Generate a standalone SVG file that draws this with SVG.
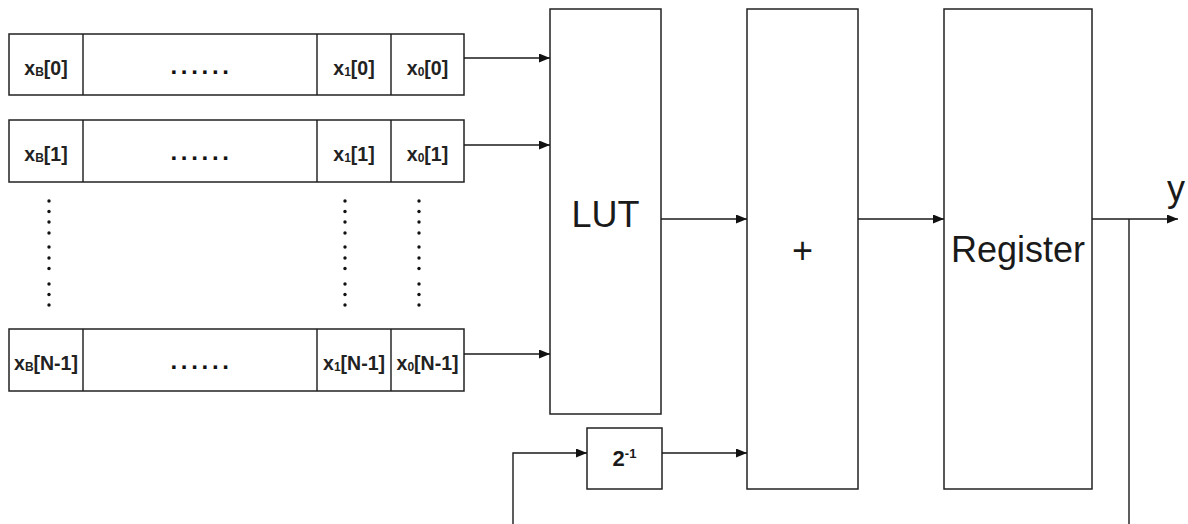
<svg xmlns="http://www.w3.org/2000/svg" width="1188" height="524" viewBox="0 0 1188 524">
<style>
.box{fill:#fff;stroke:#222;stroke-width:1.5}
.ln{fill:none;stroke:#1a1a1a;stroke-width:1.4}
.cell{font-family:"Liberation Sans",Arial,sans-serif;font-size:19.5px;font-weight:bold;fill:#222;text-anchor:middle}
.sub{font-size:12px}
.dots{font-family:"Liberation Sans",Arial,sans-serif;font-size:24px;font-weight:bold;fill:#111;letter-spacing:3.7px}
.big{font-family:"Liberation Sans",Arial,sans-serif;font-size:36px;fill:#1a1a1a;text-anchor:middle}
.pow{font-family:"Liberation Sans",Arial,sans-serif;font-size:22px;font-weight:bold;fill:#1a1a1a;text-anchor:middle}
.vd{fill:#111}
</style>
<defs>
<marker id="ah" markerUnits="userSpaceOnUse" markerWidth="11" markerHeight="9" refX="11" refY="4.5" orient="auto">
<path d="M0,0 L11,4.5 L0,9 z" fill="#111"/>
</marker>
</defs>
<g id="row0">
<rect class="box" x="9" y="34" width="455" height="61"/>
<path class="ln" d="M83,34 V95 M317,34 V95 M391,34 V95"/>
<text class="cell" x="46" y="75">x<tspan class="sub" dy="1">B</tspan><tspan dy="-1">[0]</tspan></text>
<text class="dots" x="170.5" y="73.5">......</text>
<text class="cell" x="354" y="75">x<tspan class="sub" dy="1">1</tspan><tspan dy="-1">[0]</tspan></text>
<text class="cell" x="427.5" y="75">x<tspan class="sub" dy="1">0</tspan><tspan dy="-1">[0]</tspan></text>
</g>
<g id="row1">
<rect class="box" x="9" y="120" width="455" height="62"/>
<path class="ln" d="M83,120 V182 M317,120 V182 M391,120 V182"/>
<text class="cell" x="46" y="161">x<tspan class="sub" dy="1">B</tspan><tspan dy="-1">[1]</tspan></text>
<text class="dots" x="170.5" y="159.5">......</text>
<text class="cell" x="354" y="161">x<tspan class="sub" dy="1">1</tspan><tspan dy="-1">[1]</tspan></text>
<text class="cell" x="427.5" y="161">x<tspan class="sub" dy="1">0</tspan><tspan dy="-1">[1]</tspan></text>
</g>
<g id="vdots" class="vd">
<circle cx="49" cy="201" r="1.7"/><circle cx="49" cy="211.5" r="1.7"/><circle cx="49" cy="222" r="1.7"/><circle cx="49" cy="233" r="1.7"/><circle cx="49" cy="247" r="1.7"/><circle cx="49" cy="258" r="1.7"/><circle cx="49" cy="268.5" r="1.7"/><circle cx="49" cy="284" r="1.7"/><circle cx="49" cy="294.5" r="1.7"/><circle cx="49" cy="305" r="1.7"/>
<circle cx="345" cy="201" r="1.7"/><circle cx="345" cy="211.5" r="1.7"/><circle cx="345" cy="222" r="1.7"/><circle cx="345" cy="233" r="1.7"/><circle cx="345" cy="247" r="1.7"/><circle cx="345" cy="258" r="1.7"/><circle cx="345" cy="268.5" r="1.7"/><circle cx="345" cy="284" r="1.7"/><circle cx="345" cy="294.5" r="1.7"/><circle cx="345" cy="305" r="1.7"/>
<circle cx="419" cy="201" r="1.7"/><circle cx="419" cy="211.5" r="1.7"/><circle cx="419" cy="222" r="1.7"/><circle cx="419" cy="233" r="1.7"/><circle cx="419" cy="247" r="1.7"/><circle cx="419" cy="258" r="1.7"/><circle cx="419" cy="268.5" r="1.7"/><circle cx="419" cy="284" r="1.7"/><circle cx="419" cy="294.5" r="1.7"/><circle cx="419" cy="305" r="1.7"/>
</g>
<g id="rowN">
<rect class="box" x="9" y="329" width="455" height="62"/>
<path class="ln" d="M83,329 V391 M317,329 V391 M391,329 V391"/>
<text class="cell" x="46" y="370">x<tspan class="sub" dy="1">B</tspan><tspan dy="-1">[N-1]</tspan></text>
<text class="dots" x="170.5" y="368.5">......</text>
<text class="cell" x="354" y="370">x<tspan class="sub" dy="1">1</tspan><tspan dy="-1">[N-1]</tspan></text>
<text class="cell" x="427.5" y="370">x<tspan class="sub" dy="1">0</tspan><tspan dy="-1">[N-1]</tspan></text>
</g>
<g id="lut">
<rect class="box" x="550" y="9" width="111" height="405"/>
<text class="big" x="605.5" y="227">LUT</text>
</g>
<g id="adder">
<rect class="box" x="747" y="9" width="111" height="480"/>
<text class="big" x="802.5" y="263">+</text>
</g>
<g id="register">
<rect class="box" x="944" y="9" width="148" height="480"/>
<text class="big" x="1018" y="262">Register</text>
</g>
<g id="shift">
<rect class="box" x="587" y="428" width="75" height="61"/>
<text class="pow" x="624.5" y="466">2<tspan font-size="13px" dy="-8">-1</tspan></text>
</g>
<g id="output">
<text class="big" x="1176" y="201">y</text>
</g>
<g id="connectors">
<path class="ln" d="M464,58 H550" marker-end="url(#ah)"/>
<path class="ln" d="M464,145 H550" marker-end="url(#ah)"/>
<path class="ln" d="M464,354 H550" marker-end="url(#ah)"/>
<path class="ln" d="M661,219 H747" marker-end="url(#ah)"/>
<path class="ln" d="M858,219 H944" marker-end="url(#ah)"/>
<path class="ln" d="M1092,219 H1178" marker-end="url(#ah)"/>
<path class="ln" d="M1129,219 V540 H513 V453 H587" marker-end="url(#ah)"/>
<path class="ln" d="M662,453 H747" marker-end="url(#ah)"/>
</g>
</svg>
